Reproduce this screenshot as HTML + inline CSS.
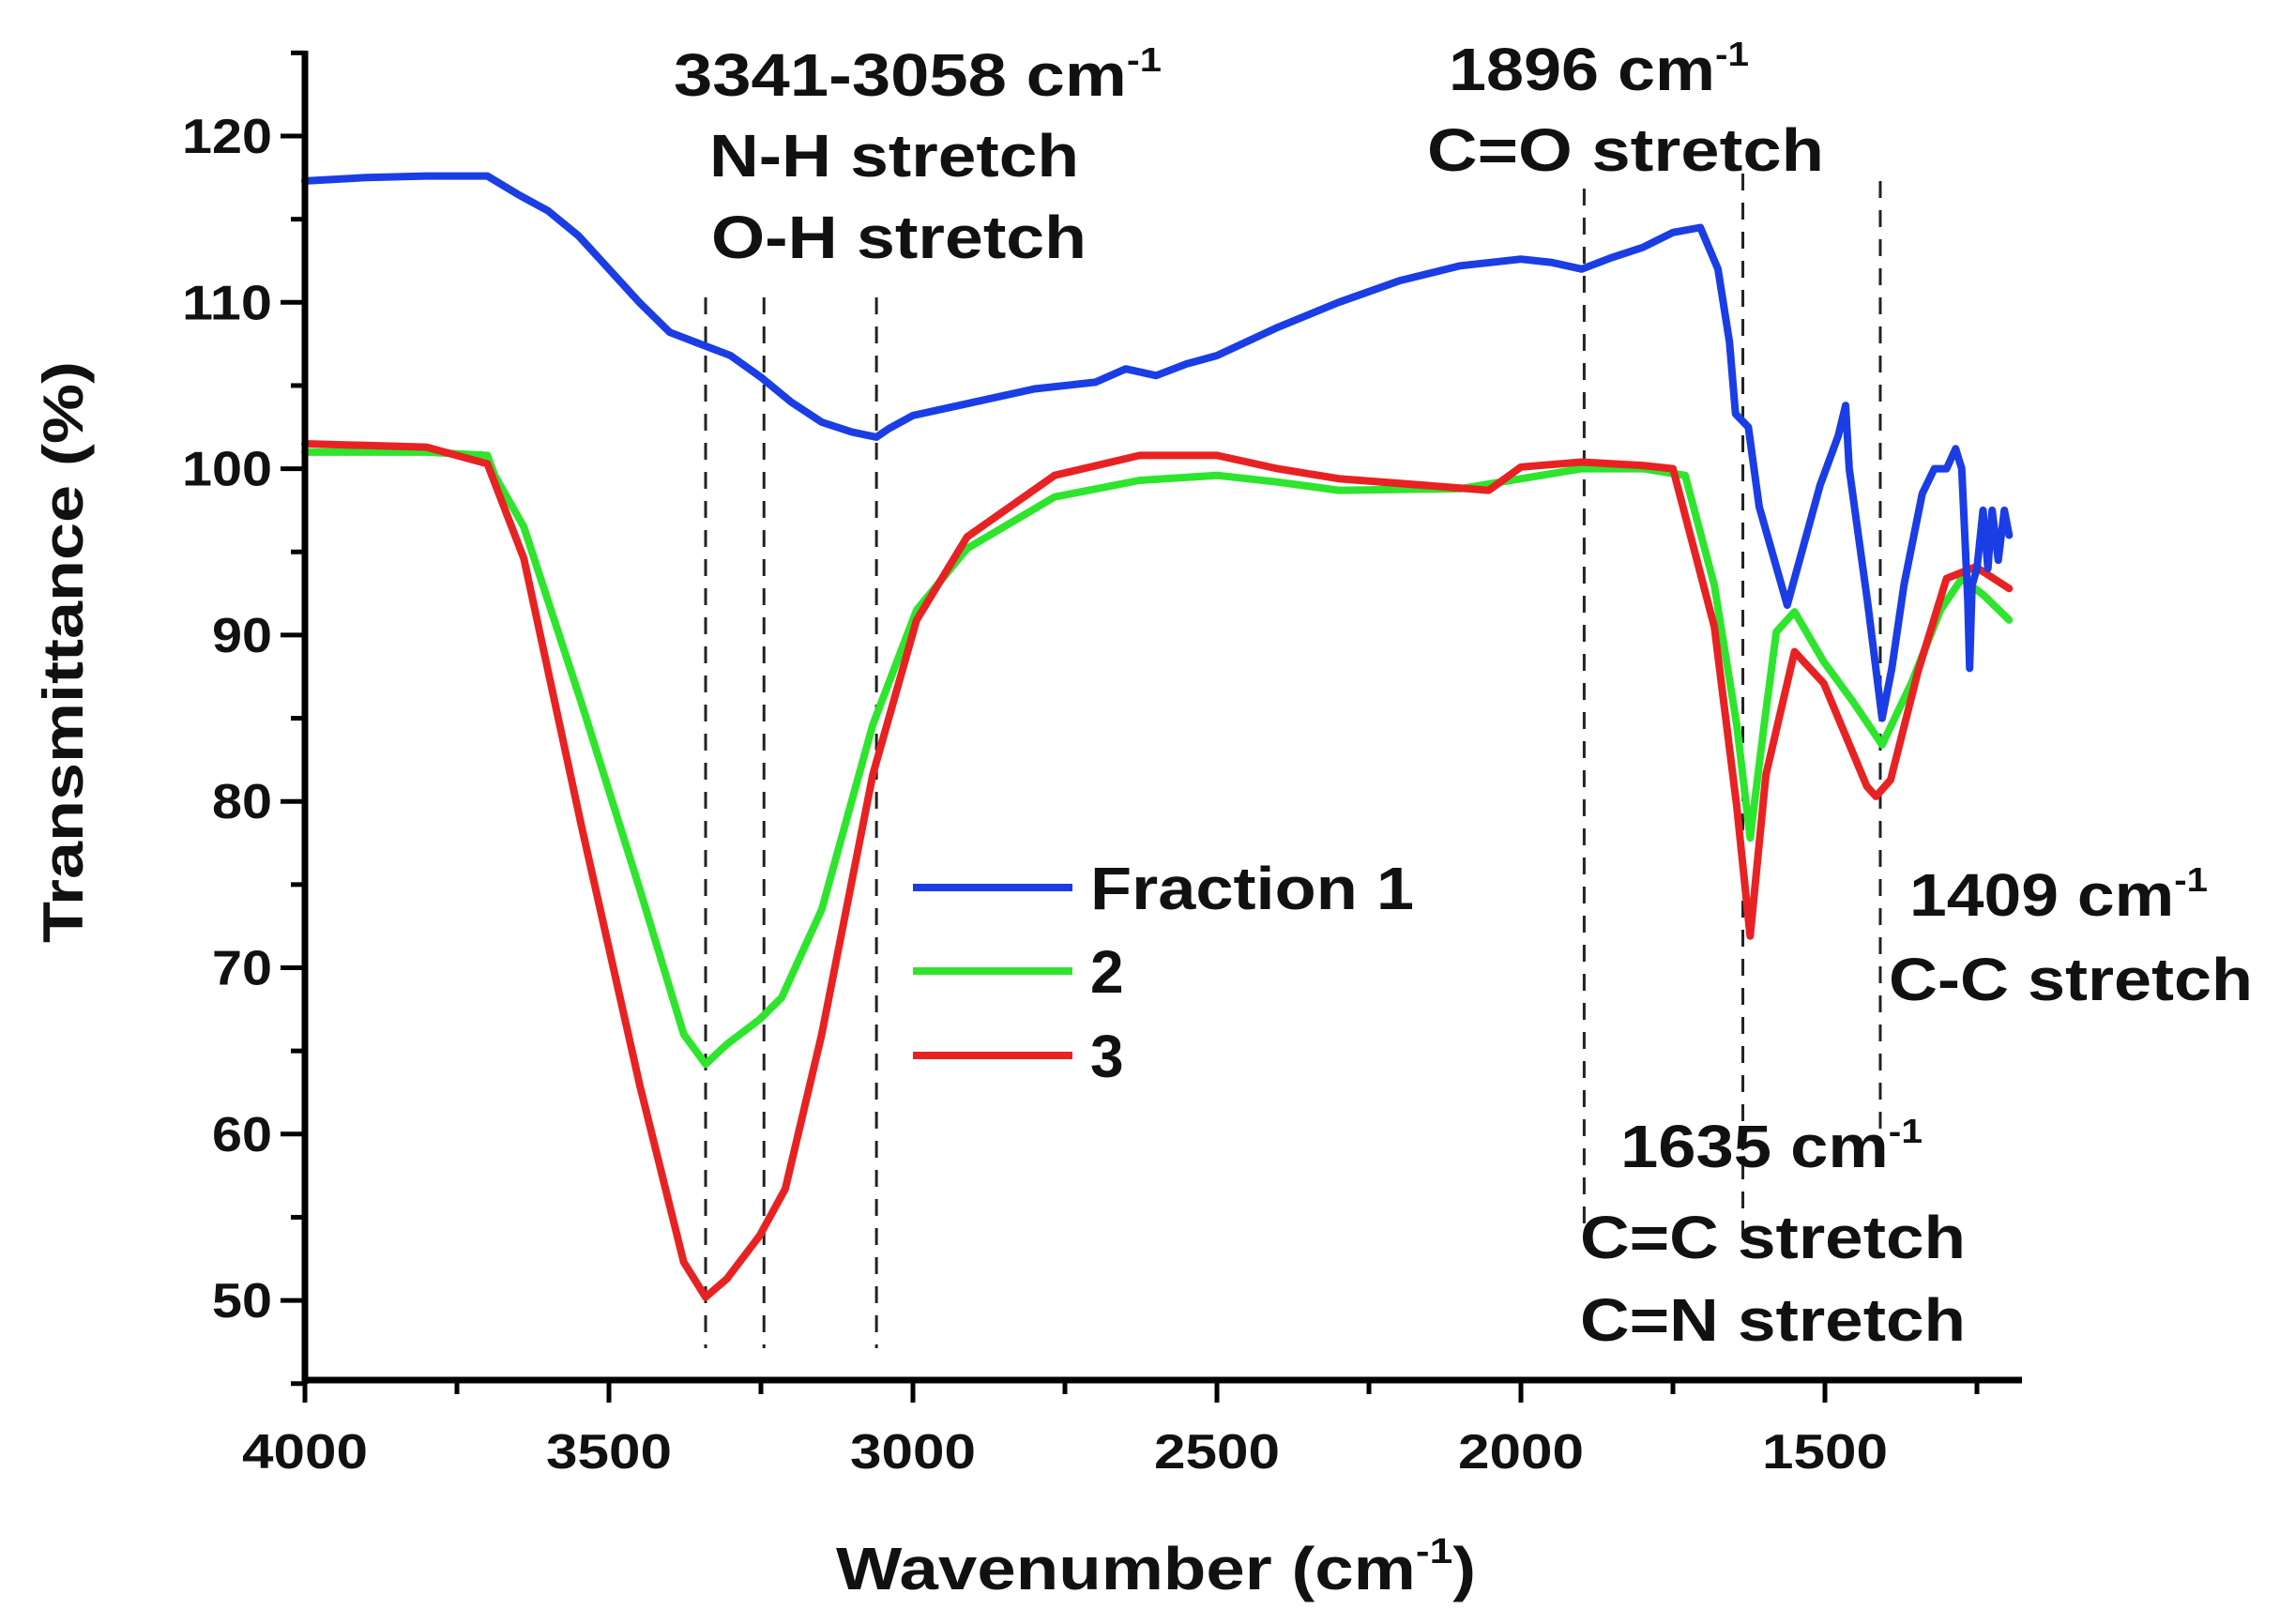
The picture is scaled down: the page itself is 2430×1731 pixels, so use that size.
<!DOCTYPE html>
<html><head><meta charset="utf-8"><style>
html,body{margin:0;padding:0;background:#fff;}
svg{display:block;}
text{font-family:"Liberation Sans",Arial,sans-serif;font-weight:bold;fill:#111;}
</style></head><body>
<svg id="chart" width="2430" height="1731" viewBox="0 0 2430 1731" xmlns="http://www.w3.org/2000/svg">
<g id="dashes"></g>
<g id="series"></g>
<g id="axes"></g>
<g>
<text x="718" y="102" font-size="64" textLength="520" lengthAdjust="spacingAndGlyphs">3341-3058 cm<tspan font-size="36" dy="-26">-1</tspan></text>
<text x="756" y="188" font-size="64" textLength="394" lengthAdjust="spacingAndGlyphs">N-H stretch</text>
<text x="758" y="275" font-size="64" textLength="400" lengthAdjust="spacingAndGlyphs">O-H stretch</text>
<text x="1544" y="96" font-size="64" textLength="320" lengthAdjust="spacingAndGlyphs">1896 cm<tspan font-size="36" dy="-26">-1</tspan></text>
<text x="1521" y="182" font-size="64" textLength="423" lengthAdjust="spacingAndGlyphs">C=O stretch</text>
<text x="2035" y="976" font-size="64" textLength="318" lengthAdjust="spacingAndGlyphs">1409 cm<tspan font-size="36" dy="-26">-1</tspan></text>
<text x="2013" y="1066" font-size="64" textLength="388" lengthAdjust="spacingAndGlyphs">C-C stretch</text>
<text x="1727" y="1244" font-size="64" textLength="322" lengthAdjust="spacingAndGlyphs">1635 cm<tspan font-size="36" dy="-26">-1</tspan></text>
<text x="1684" y="1341" font-size="64" textLength="411" lengthAdjust="spacingAndGlyphs">C=C stretch</text>
<text x="1684" y="1429" font-size="64" textLength="411" lengthAdjust="spacingAndGlyphs">C=N stretch</text>
</g>
<g>
<line x1="973" y1="946" x2="1143" y2="946" stroke="#1a3de6" stroke-width="8"/>
<text x="1162" y="969" font-size="64" textLength="345" lengthAdjust="spacingAndGlyphs">Fraction 1</text>
<line x1="973" y1="1035" x2="1143" y2="1035" stroke="#2ee52e" stroke-width="8"/>
<text x="1162" y="1058" font-size="64">2</text>
<line x1="973" y1="1125" x2="1143" y2="1125" stroke="#e82222" stroke-width="8"/>
<text x="1162" y="1148" font-size="64">3</text>
</g>
<text transform="translate(88,695) rotate(-90)" text-anchor="middle" font-size="60" textLength="620" lengthAdjust="spacingAndGlyphs">Transmittance (%)</text>
<text x="891" y="1694" font-size="64" textLength="682" lengthAdjust="spacingAndGlyphs">Wavenumber (cm<tspan font-size="38" dy="-28">-1</tspan><tspan dy="28">)</tspan></text>
</svg>
<script>
const yTicks = [50,60,70,80,90,100,110,120];
const xTicks = [4000,3500,3000,2500,2000,1500];
const peakLines = [3341,3245,3060,1896,1635,1409];
const peakTop = [317,317,317,201,185,193];
const peakBottom = [1437,1437,1437,1306,1329,1213];
const blueX = [4000,3900,3800,3700,3650,3600,3550,3500,3450,3400,3350,3300,3250,3200,3150,3100,3060,3040,3000,2900,2800,2700,2650,2600,2550,2500,2400,2300,2200,2100,2000,1950,1900,1850,1800,1750,1705,1676,1657,1647,1626,1608,1562,1508,1478,1466,1460,1445,1430,1406,1390,1370,1340,1320,1300,1285,1275,1265,1262,1258,1250,1240,1232,1225,1215,1205,1197];
const blueY = [117.3,117.5,117.6,117.6,116.5,115.5,114,112,110,108.2,107.5,106.8,105.5,104,102.8,102.2,101.9,102.4,103.2,104,104.8,105.2,106,105.6,106.3,106.8,108.5,110,111.3,112.2,112.6,112.4,112,112.7,113.3,114.2,114.5,112,107.6,103.3,102.5,97.7,91.8,99,102,103.8,100,96,92,85,88,93,98.5,100,100,101.2,100,92,88,93,94,97.5,94,97.5,94.5,97.5,96];
const greenX = [4000,3800,3700,3688,3640,3545,3449,3377,3341,3306,3252,3216,3150,3066,2994,2911,2767,2627,2500,2400,2300,2100,1900,1800,1730,1682,1645,1623,1600,1580,1550,1502,1454,1406,1358,1310,1275,1239,1197];
const greenY = [101,101,100.8,99.6,96.5,85.9,74.7,66,64.2,65.4,66.9,68.2,73.5,84.6,91.5,95.2,98.3,99.3,99.6,99.2,98.7,98.8,100,100,99.6,93,84.6,77.8,84.6,90.2,91.4,88.4,86,83.4,87.1,91.5,93.4,92.4,90.9];
const redX = [4000,3800,3700,3640,3545,3449,3377,3341,3306,3252,3210,3150,3066,2994,2911,2767,2627,2500,2400,2300,2053,2000,1900,1800,1750,1682,1645,1623,1597,1550,1502,1431,1416,1392,1347,1300,1252,1197];
const redY = [101.5,101.3,100.3,94.6,78.5,62.9,52.3,50.2,51.3,53.9,56.7,66,81.6,90.9,95.9,99.6,100.8,100.8,100,99.4,98.7,100.1,100.4,100.2,100,90.5,79.7,71.9,81.6,89,87.1,80.9,80.3,81.3,87.8,93.4,94.1,92.8];

const NS = 'http://www.w3.org/2000/svg';
const xs = v => 325 + (4000 - v) * 0.648;
const ys = v => 145 + (120 - v) * 17.73;
function mk(tag, attrs, parent){const e=document.createElementNS(NS,tag);for(const k in attrs)e.setAttribute(k,attrs[k]);parent.appendChild(e);return e;}

const dash = document.getElementById('dashes');
peakLines.forEach((p,i)=>{
  const l = mk('line',{x1:xs(p),x2:xs(p),y1:peakTop[i],y2:peakBottom[i],stroke:'#222','stroke-width':3,'stroke-dasharray':'18 13'},dash);
  
  
});

const ser = document.getElementById('series');
function drawSeries(X,Y,color,name){
  const d = X.map((x,i)=>(i?'L':'M')+xs(x).toFixed(1)+' '+ys(Y[i]).toFixed(1)).join(' ');
  const p = mk('path',{d:d,fill:'none',stroke:color,'stroke-width':8,'stroke-linejoin':'round','stroke-linecap':'round'},ser);
  
  
}
drawSeries(greenX,greenY,'#2ee52e','series-2-line');
drawSeries(redX,redY,'#e82222','series-3-line');
drawSeries(blueX,blueY,'#1a3de6','series-fraction-1-line');

const ax = document.getElementById('axes');
const ya = mk('line',{x1:325,y1:54,x2:325,y2:1475,stroke:'#000','stroke-width':7},ax);


const xa = mk('line',{x1:322,y1:1471,x2:2155,y2:1471,stroke:'#000','stroke-width':7},ax);


for(let v=45; v<=125; v+=5){
  const major = v%10===0;
  const t = mk('line',{x1:325-(major?26:15),x2:325,y1:ys(v),y2:ys(v),stroke:'#000','stroke-width':5},ax);
  
  
}
yTicks.forEach(v=>{
  const s = String(v);
  const t = mk('text',{x:290,y:ys(v)+18,'text-anchor':'end','font-size':52,textLength:s.length*32,lengthAdjust:'spacingAndGlyphs'},ax);
  t.textContent = s;
  
  
});
for(let v=4000; v>=1250; v-=250){
  const major = v%500===0;
  const t = mk('line',{x1:xs(v),x2:xs(v),y1:1471,y2:1471+(major?24:15),stroke:'#000','stroke-width':5},ax);
  
  
}
xTicks.forEach(v=>{
  const t = mk('text',{x:xs(v),y:1565,'text-anchor':'middle','font-size':52,textLength:134,lengthAdjust:'spacingAndGlyphs'},ax);
  t.textContent = v;
  
  
});
</script>
</body></html>
